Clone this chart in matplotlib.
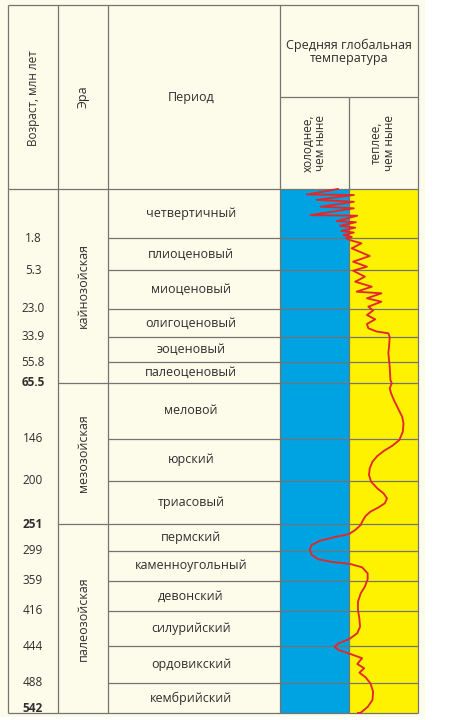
import numpy as np
import matplotlib.pyplot as plt
from matplotlib.patches import Rectangle

plt.rcParams['font.family'] = ['Open Sans', 'DejaVu Sans']

# period boundaries, million years ago
bound_ages = [0, 1.8, 5.3, 23.0, 33.9, 55.8, 65.5, 146, 200, 251, 299, 359, 416, 444, 488, 542]
age_labels = ['', '1.8', '5.3', '23.0', '33.9', '55.8', '65.5', '146', '200', '251',
              '299', '359', '416', '444', '488', '542']
bold_ages = ['65.5', '251', '542']

periods = ['четвертичный', 'плиоценовый', 'миоценовый', 'олигоценовый', 'эоценовый',
           'палеоценовый', 'меловой', 'юрский', 'триасовый', 'пермский',
           'каменноугольный', 'девонский', 'силурийский', 'ордовикский', 'кембрийский']

eras = ['кайнозойская', 'мезозойская', 'палеозойская']
era_bounds = [0, 65.5, 251, 542]

# temperature curve: age (Ma) and deviation from today (-1 colder ... +1 warmer)
curve_age = [0.00, 0.20, 0.22, 0.40, 0.47, 0.65, 0.71, 0.96, 0.98, 1.18, 1.22, 1.35,
             1.42, 1.54, 1.60, 1.69, 1.76, 1.81,
             2.02, 2.38, 2.93, 3.77, 4.39, 4.94, 5.62,
             8.34, 10.61, 12.88, 15.15, 15.87, 18.14, 19.69, 21.95,
             23.58, 25.34, 27.01, 28.84, 30.51, 31.76, 32.46, 33.9,
             42.4, 47.9, 57.97, 64.1,
             65.9, 73.1, 80.3, 89.9, 101.9, 113.9, 123.4, 135.5,
             147.3, 154.6, 161, 167.9, 175.2, 183.7, 192.3,
             200.8, 208.7, 214.6, 220.5, 226.4, 231.2, 236.4, 241.5, 248.3,
             252.8, 261.7, 268.8, 274.7, 280.7, 288.3, 296,
             307, 315.6, 320.4, 325, 331.6, 343.6, 355.6,
             369.8, 382.4, 398.3, 414.1,
             421.8, 428.6, 433.8, 438.6, 441.8,
             444.8, 448.8, 453.5, 458.5, 465.4, 470.5, 475.7, 481.2,
             488.5, 503.7, 518.6, 531.1, 541.5, 542]
curve_temp = [-0.16, -0.61, 0.07, -0.47, 0.07, -0.41, 0.07, -0.56, 0.12, -0.18, 0.10, -0.13,
              0.09, -0.11, 0.07, -0.08, 0.04, -0.04,
              0.01, 0.18, 0.04, 0.30, 0.06, 0.26, 0.06,
              0.23, 0.09, 0.33, 0.11, 0.47, 0.26, 0.47, 0.28,
              0.35, 0.26, 0.38, 0.26, 0.28, 0.40, 0.57, 0.59,
              0.58, 0.57, 0.59, 0.60,
              0.62, 0.59, 0.61, 0.65, 0.71, 0.77, 0.79, 0.78,
              0.73, 0.63, 0.51, 0.41, 0.34, 0.30, 0.29,
              0.32, 0.41, 0.50, 0.55, 0.52, 0.43, 0.31, 0.24, 0.19,
              0.17, 0.09, 0.00, -0.22, -0.42, -0.54, -0.57,
              -0.54, -0.44, -0.27, 0.02, 0.19, 0.27, 0.27,
              0.23, 0.17, 0.13, 0.13,
              0.15, 0.16, 0.12, 0.00, -0.15,
              -0.21, -0.15, 0.02, 0.19, 0.12, 0.22, 0.15, 0.24,
              0.31, 0.35, 0.34, 0.27, 0.17, 0.13]

# layout: row heights of the table in pixels
row_px = [49, 32, 39, 28, 25, 21, 56, 42, 43, 27, 30, 30, 35, 37, 30]
row_depth = np.concatenate([[0], np.cumsum(row_px)])


def fwd(a):
    return np.interp(a, bound_ages, row_depth)


def inv(d):
    return np.interp(d, row_depth, bound_ages)


cream = '#FDFBEA'
blue = '#00A3E2'
yellow = '#FFF200'
lc = '#747472'
tc = '#2E2E2E'

fig = plt.figure(figsize=(4.5, 7.2), dpi=100)

# header / background in pixel coordinates
ax_bg = fig.add_axes([0, 0, 1, 1])
ax_bg.set_xlim(0, 450)
ax_bg.set_ylim(720, 0)
ax_bg.axis('off')
ax_bg.add_patch(Rectangle((0, 0), 425, 717, color=cream, lw=0))
ax_bg.hlines(5, 8, 418, color=lc, lw=0.9)
ax_bg.vlines([8, 58, 108, 280, 418], 5, 189, color=lc, lw=0.9)
ax_bg.vlines(349, 97, 189, color=lc, lw=0.9)
ax_bg.hlines(97, 280, 418, color=lc, lw=0.9)

ax_bg.text(33, 98, 'Возраст, млн лет', rotation=90, ha='center', va='center', fontsize=8.5, color=tc)
ax_bg.text(83, 97, 'Эра', rotation=90, ha='center', va='center', fontsize=9, color=tc)
ax_bg.text(191, 97, 'Период', ha='center', va='center', fontsize=9, color=tc)
ax_bg.text(349, 52, 'Средняя глобальная\nтемпература', ha='center', va='center',
           fontsize=9, color=tc, linespacing=0.95)
ax_bg.text(314, 143, 'холоднее,\nчем ныне', rotation=90, ha='center', va='center',
           multialignment='center', fontsize=8.5, color=tc, linespacing=0.95)
ax_bg.text(383, 143, 'теплее,\nчем ныне', rotation=90, ha='center', va='center',
           multialignment='center', fontsize=8.5, color=tc, linespacing=0.95)

# table body, y in age
ax = fig.add_axes([0, 7 / 720, 1, 524 / 720])
ax.set_yscale('function', functions=(fwd, inv))
ax.set_ylim(542, 0)
ax.set_xlim(0, 450)
ax.axis('off')

ax.axvspan(280, 349, color=blue, lw=0, zorder=1)
ax.axvspan(349, 418, color=yellow, lw=0, zorder=1)

for a, lab in zip(bound_ages[1:-1], age_labels[1:-1]):
    x0 = 58 if lab in bold_ages else 108
    ax.hlines(a, x0, 418, color=lc, lw=0.9, zorder=2)
ax.hlines([0, 542], 8, 418, color=lc, lw=0.9, zorder=2, clip_on=False)
ax.vlines([8, 58, 108, 280, 349, 418], 0, 542, color=lc, lw=0.9, zorder=2, clip_on=False)

for a, lab in zip(bound_ages[1:], age_labels[1:]):
    dy = 5 if a == bound_ages[-1] else 0
    ax.annotate(lab, (33, a), xytext=(0, dy), textcoords='offset pixels',
                ha='center', va='center', fontsize=8.5, color=tc,
                fontweight='bold' if lab in bold_ages else 'normal')

for i, name in enumerate(periods):
    mid = (bound_ages[i] + bound_ages[i + 1]) / 2
    ax.text(191, mid, name, ha='center', va='center', fontsize=9, color=tc)

for i, name in enumerate(eras):
    mid = inv((fwd(era_bounds[i]) + fwd(era_bounds[i + 1])) / 2)
    ax.text(83, mid, name, rotation=90, ha='center', va='center', fontsize=9, color=tc)

# temperature curve over the two coloured columns
ax_t = fig.add_axes([280 / 450, 7 / 720, 138 / 450, 524 / 720], sharey=ax)
ax_t.set_xlim(-1, 1)
ax_t.axis('off')
ax_t.plot(curve_temp, curve_age, color='#E2282A', lw=1.35, clip_on=False,
          solid_joinstyle='round')

fig.savefig('out.png', dpi=100)
